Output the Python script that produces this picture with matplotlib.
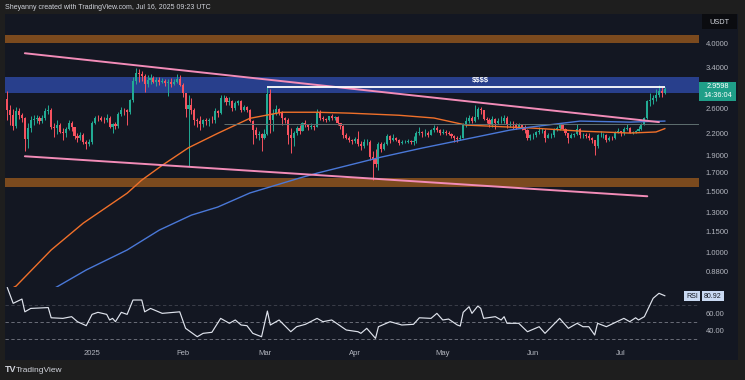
import matplotlib
matplotlib.use('Agg')
import matplotlib.pyplot as plt
import matplotlib.dates as mdates
from matplotlib.patches import Rectangle
from matplotlib.ticker import NullLocator
import numpy as np
import pandas as pd

plt.rcParams['font.family'] = ['Liberation Sans', 'DejaVu Sans']

# XRP/USDT daily candles, 2024-12-03 .. 2025-07-16
first_open = 2.76
close_dec = [2.56, 2.48, 2.31, 2.55, 2.49, 2.44, 2.12, 2.28, 2.40, 2.42, 2.43, 2.38, 2.44, 2.55, 2.57,
             2.30, 2.28, 2.33, 2.22, 2.20, 2.26, 2.36, 2.29, 2.16, 2.14, 2.18, 2.08, 2.05, 2.08]
high_dec = [2.91, 2.65, 2.58, 2.62, 2.60, 2.52, 2.45, 2.35, 2.47, 2.48, 2.48, 2.46, 2.49, 2.60, 2.65,
            2.60, 2.35, 2.40, 2.36, 2.28, 2.30, 2.40, 2.39, 2.30, 2.21, 2.22, 2.20, 2.11, 2.12]
low_dec = [2.40, 2.33, 2.25, 2.28, 2.42, 2.37, 1.96, 1.99, 2.22, 2.33, 2.35, 2.34, 2.36, 2.41, 2.50,
           2.26, 2.15, 2.19, 2.20, 2.10, 2.15, 2.25, 2.24, 2.12, 2.08, 2.10, 2.05, 1.98, 2.02]

close_jan = [2.36, 2.44, 2.43, 2.41, 2.40, 2.43, 2.30, 2.34, 2.31, 2.50, 2.57, 2.56, 2.54, 2.74, 3.12, 3.28,
             3.25, 3.22, 3.06, 3.13, 3.17, 3.10, 3.13, 3.10, 3.12, 3.07, 3.10, 3.05, 3.10, 3.16, 3.04]
high_jan = [2.39, 2.47, 2.48, 2.46, 2.45, 2.50, 2.47, 2.36, 2.37, 2.53, 2.62, 2.60, 2.59, 2.77, 3.20, 3.40,
            3.36, 3.33, 3.25, 3.24, 3.25, 3.22, 3.20, 3.20, 3.17, 3.16, 3.15, 3.18, 3.16, 3.26, 3.23]
low_jan = [2.05, 2.34, 2.39, 2.38, 2.35, 2.37, 2.28, 2.21, 2.27, 2.28, 2.46, 2.48, 2.33, 2.50, 2.70, 3.05,
           3.10, 3.12, 2.90, 3.00, 3.06, 3.07, 3.02, 3.04, 3.07, 3.02, 2.82, 3.00, 3.03, 3.08, 3.01]

close_feb = [2.87, 2.58, 2.65, 2.56, 2.40, 2.38, 2.34, 2.41, 2.39, 2.41, 2.40, 2.55, 2.51, 2.78,
             2.78, 2.70, 2.73, 2.60, 2.69, 2.72, 2.57, 2.62, 2.57, 2.39, 2.25, 2.17, 2.19, 2.14]
high_feb = [3.07, 2.88, 2.84, 2.78, 2.60, 2.44, 2.46, 2.42, 2.44, 2.43, 2.47, 2.60, 2.56, 2.83,
            2.84, 2.81, 2.79, 2.75, 2.72, 2.75, 2.74, 2.65, 2.64, 2.59, 2.40, 2.30, 2.23, 2.20]
low_feb = [2.80, 2.45, 1.77, 2.50, 2.32, 2.30, 2.25, 2.30, 2.33, 2.31, 2.36, 2.35, 2.45, 2.50,
           2.70, 2.65, 2.66, 2.55, 2.56, 2.65, 2.53, 2.55, 2.54, 2.37, 2.05, 2.14, 2.10, 1.96]

close_mar = [2.19, 2.85, 2.41, 2.50, 2.58, 2.51, 2.43, 2.40, 2.17, 2.13, 2.20, 2.28, 2.24, 2.35, 2.33, 2.29,
             2.31, 2.30, 2.53, 2.43, 2.42, 2.40, 2.46, 2.44, 2.45, 2.35, 2.31, 2.18, 2.14, 2.10, 2.09]
high_mar = [2.26, 2.99, 2.95, 2.58, 2.66, 2.60, 2.55, 2.45, 2.43, 2.28, 2.24, 2.31, 2.32, 2.37, 2.40, 2.34,
            2.35, 2.33, 2.59, 2.56, 2.47, 2.43, 2.47, 2.50, 2.47, 2.47, 2.35, 2.32, 2.20, 2.16, 2.12]
low_mar = [2.12, 2.17, 2.20, 2.24, 2.48, 2.48, 2.32, 2.35, 2.05, 1.93, 2.02, 2.18, 2.19, 2.23, 2.30, 2.25,
           2.27, 2.25, 2.29, 2.40, 2.38, 2.37, 2.38, 2.41, 2.40, 2.33, 2.26, 2.14, 2.12, 2.08, 2.05]

close_apr = [2.12, 2.05, 2.02, 2.08, 2.08, 1.88, 1.86, 1.80, 2.05, 1.98, 2.05, 2.16, 2.10, 2.14, 2.11,
             2.07, 2.08, 2.08, 2.09, 2.08, 2.09, 2.20, 2.22, 2.20, 2.20, 2.18, 2.25, 2.28, 2.25, 2.21]
high_apr = [2.15, 2.23, 2.09, 2.12, 2.12, 2.10, 1.96, 1.98, 2.08, 2.08, 2.08, 2.19, 2.17, 2.19, 2.15,
            2.12, 2.10, 2.10, 2.12, 2.10, 2.16, 2.23, 2.30, 2.24, 2.26, 2.24, 2.27, 2.32, 2.31, 2.27]
low_apr = [2.07, 2.02, 1.97, 2.00, 2.04, 1.84, 1.61, 1.76, 1.72, 1.95, 1.97, 2.04, 2.06, 2.09, 2.09,
           2.04, 2.05, 2.06, 2.07, 2.05, 2.04, 2.07, 2.17, 2.15, 2.16, 2.15, 2.17, 2.22, 2.22, 2.17]

close_may = [2.22, 2.21, 2.19, 2.16, 2.14, 2.12, 2.13, 2.33, 2.38, 2.44, 2.39, 2.45, 2.59, 2.56, 2.42, 2.41,
             2.34, 2.42, 2.35, 2.38, 2.39, 2.44, 2.32, 2.34, 2.33, 2.30, 2.32, 2.29, 2.25, 2.14, 2.17]
high_may = [2.26, 2.25, 2.23, 2.20, 2.18, 2.16, 2.17, 2.36, 2.45, 2.48, 2.47, 2.65, 2.62, 2.62, 2.57, 2.45,
            2.44, 2.46, 2.43, 2.44, 2.47, 2.48, 2.47, 2.38, 2.38, 2.36, 2.36, 2.33, 2.33, 2.26, 2.19]
low_may = [2.19, 2.18, 2.17, 2.13, 2.08, 2.08, 2.10, 2.13, 2.30, 2.36, 2.36, 2.37, 2.42, 2.50, 2.40, 2.36,
           2.30, 2.29, 2.26, 2.34, 2.35, 2.36, 2.28, 2.30, 2.27, 2.26, 2.28, 2.25, 2.20, 2.10, 2.11]

close_jun = [2.18, 2.22, 2.23, 2.23, 2.14, 2.17, 2.17, 2.26, 2.28, 2.32, 2.27, 2.20, 2.14, 2.18, 2.19,
             2.27, 2.17, 2.17, 2.16, 2.14, 2.10, 2.02, 2.18, 2.18, 2.18, 2.10, 2.14, 2.13, 2.22, 2.23]
high_jun = [2.20, 2.24, 2.30, 2.28, 2.26, 2.20, 2.20, 2.28, 2.31, 2.34, 2.34, 2.28, 2.21, 2.20, 2.21,
            2.34, 2.28, 2.21, 2.20, 2.20, 2.15, 2.11, 2.19, 2.24, 2.21, 2.19, 2.16, 2.16, 2.24, 2.28]
low_jun = [2.12, 2.15, 2.19, 2.20, 2.08, 2.13, 2.14, 2.15, 2.24, 2.25, 2.25, 2.17, 2.07, 2.13, 2.15,
           2.17, 2.14, 2.13, 2.14, 2.11, 2.06, 1.91, 2.00, 2.15, 2.14, 2.08, 2.09, 2.11, 2.12, 2.20]

close_jul = [2.20, 2.27, 2.28, 2.21, 2.22, 2.24, 2.26, 2.34, 2.43, 2.73, 2.74, 2.78, 2.84, 2.91, 2.88, 2.96]
high_jul = [2.24, 2.29, 2.34, 2.29, 2.24, 2.25, 2.31, 2.35, 2.45, 2.75, 2.88, 2.84, 2.96, 3.03, 3.00, 2.99]
low_jul = [2.16, 2.17, 2.25, 2.20, 2.19, 2.21, 2.23, 2.25, 2.33, 2.42, 2.64, 2.68, 2.73, 2.80, 2.80, 2.86]

# moving averages (days from 2025-01-01, value)
ma100_day = [-29, -26, -14, -3, 12, 17, 24, 33, 43, 54, 65, 77, 88, 105, 117, 128, 143, 150, 167, 184, 193, 196]
ma100_val = [0.775, 0.80, 1.016, 1.214, 1.48, 1.614, 1.78, 2.0, 2.2, 2.43, 2.53, 2.53, 2.515, 2.48, 2.435,
             2.324, 2.293, 2.28, 2.233, 2.204, 2.22, 2.27]
ma200_day = [-14, -12, -2, 12, 23, 34, 43, 54, 71, 77, 99, 113, 128, 143, 150, 167, 184, 196]
ma200_val = [0.78, 0.796, 0.89, 1.016, 1.159, 1.28, 1.35, 1.482, 1.636, 1.69, 1.88, 1.996, 2.118, 2.248,
             2.293, 2.386, 2.37, 2.386]

# RSI(14)
rsi_day = [-29, -27, -24, -23, -21, -15, -14, -10, -7, -5, -2, 0, 2, 5, 6, 7, 8, 10, 12, 14,
           17, 18, 20, 24, 28, 30, 32, 36, 38, 41, 44, 47, 49, 51, 53, 55, 58, 60, 61, 64,
           68, 70, 73, 77, 79, 82, 87, 91, 92, 94, 96, 97, 98, 102, 106, 110, 112, 116, 118, 120,
           122, 125, 126, 127, 129, 130, 132, 133, 134, 138, 140, 141, 142, 146, 149, 153, 155, 160, 163, 166,
           168, 170, 172, 173, 176, 182, 184, 186, 187, 189, 192, 194, 196]
rsi_val = [90.4, 72, 77, 62, 66, 67, 55, 54.3, 56.3, 50.4, 45.7, 59, 61.4, 59, 52.4, 54.3, 50.4, 61.4, 59, 75.9,
           75.9, 62, 66, 60.2, 61.4, 62, 42.6, 32.7, 36.7, 37.9, 54.3, 48.5, 52.4, 46.5, 45.7, 36.7, 32.7, 62.9, 46.5, 52.4,
           38.6, 44.5, 47.3, 54.3, 50.4, 52.4, 40.6, 38.6, 36.7, 42.6, 34.7, 30.8, 44.5, 50.4, 46.5, 47.3, 55, 54.3, 60.2, 52.4,
           53.5, 46.5, 45.3, 61.4, 68, 60.2, 68.8, 66.1, 54.3, 56.3, 52.4, 56.3, 48.5, 48.5, 38.6, 44.5, 36.7, 54.3, 42.6, 48.5,
           44.5, 44.5, 34.7, 48.5, 44.5, 54.3, 50.4, 55, 52.4, 56.3, 77.9, 83.8, 80.92]

# drawings
upper_trend = (('2024-12-09', 3.74), ('2025-07-14', 2.37))
lower_trend = (('2024-12-09', 1.89), ('2025-07-10', 1.45))
liquidity = (('2025-03-02', '2025-07-16'), 2.99)
supply_zone = (4.0, 4.22)
blue_zone = (2.87, 3.19)
demand_zone = (1.54, 1.636)
price_ticks = [4.0, 3.4, 2.6, 2.2, 1.9, 1.7, 1.5, 1.3, 1.15, 1.0, 0.88]
month_ticks = ['2025-01-01', '2025-02-01', '2025-03-01', '2025-04-01', '2025-05-01', '2025-06-01', '2025-07-01']
month_labels = ['2025', 'Feb', 'Mar', 'Apr', 'May', 'Jun', 'Jul']

closes = np.array(close_dec + close_jan + close_feb + close_mar + close_apr + close_may + close_jun + close_jul)
highs = np.array(high_dec + high_jan + high_feb + high_mar + high_apr + high_may + high_jun + high_jul)
lows = np.array(low_dec + low_jan + low_feb + low_mar + low_apr + low_may + low_jun + low_jul)
opens = np.r_[first_open, closes[:-1]]
dates = pd.date_range('2024-12-03', periods=len(closes), freq='D')
x = mdates.date2num(dates)

base = pd.Timestamp('2025-01-01')


def day2num(days):
    return mdates.date2num(base + pd.to_timedelta(np.asarray(days, dtype=float), unit='D'))


def d2n(s):
    return mdates.date2num(pd.Timestamp(s))


W, H = 745, 380
fig = plt.figure(figsize=(W / 100, H / 100), dpi=100, facecolor='#1e1e1e')


def box(x0, y0, x1, y1):
    return [x0 / W, 1 - y1 / H, (x1 - x0) / W, (y1 - y0) / H]


bg = fig.add_axes(box(5, 14, 738, 360))
bg.set_facecolor('#131722')
bg.set_xticks([])
bg.set_yticks([])
for s in bg.spines.values():
    s.set_visible(False)

ax = fig.add_axes(box(5, 14, 699, 287))
rsi = fig.add_axes(box(5, 287, 699, 346), sharex=ax)
for a in (ax, rsi):
    a.patch.set_visible(False)
    for s in a.spines.values():
        s.set_visible(False)

ax.set_yscale('log')
ax.set_ylim(0.795, 4.85)
ax.set_xlim(day2num(-29.8), day2num(207.7))

# zones
ax.axhspan(*supply_zone, color='#7b4a1e', lw=0, zorder=1)
ax.axhspan(*blue_zone, color='#283f8c', lw=0, zorder=1)
ax.axhspan(*demand_zone, color='#7b4a1e', lw=0, zorder=1)

# candles
UP, DOWN = '#22ab94', '#f7525f'
col = np.where(closes >= opens, UP, DOWN)
ax.vlines(x, lows, highs, colors=col, lw=0.7, zorder=2)
ax.bar(x, np.abs(closes - opens), bottom=np.minimum(opens, closes), width=0.72,
       color=col, lw=0, zorder=3)

# moving averages
ax.plot(day2num(ma100_day), ma100_val, color='#f0702a', lw=1.0, zorder=4)
ax.plot(day2num(ma200_day), ma200_val, color='#4a78d8', lw=1.0, zorder=4)

# reference line
ax.hlines(2.34, d2n('2025-02-15'), day2num(207.7), color='#5f6f70', lw=0.7, zorder=4)

# trend channel
for (d0, p0), (d1, p1) in (upper_trend, lower_trend):
    ax.plot([d2n(d0), d2n(d1)], [p0, p1], color='#f28cb8', lw=1.4, zorder=5, solid_capstyle='round')

# liquidity line
(l0, l1), lp = liquidity
ax.hlines(lp, d2n(l0), d2n(l1), color='white', lw=1.3, zorder=6)
ax.text(d2n('2025-05-14'), 3.13, r'\$\$\$\$', color='white', fontsize=5.5, fontweight='bold',
        ha='center', va='center', zorder=7)

ax.set_yticks(price_ticks)
ax.set_yticklabels([f'{t:.4f}' for t in price_ticks])
ax.yaxis.set_minor_locator(NullLocator())
ax.yaxis.tick_right()
ax.tick_params(axis='y', length=0, pad=5, labelsize=5.5, labelcolor='#b2b5be')
ax.tick_params(axis='x', length=0, labelbottom=False)

# RSI pane
rsi.set_ylim(21.8, 91.2)
rsi.axhline(70, color='#787b86', lw=0.6, ls=(0, (4, 3)), alpha=0.45)
rsi.axhline(50, color='#787b86', lw=0.6, ls=(0, (4, 3)))
rsi.axhline(30, color='#787b86', lw=0.6, ls=(0, (4, 3)))
rsi.plot(day2num(rsi_day), rsi_val, color='#dfe3ec', lw=0.85)
rsi.yaxis.tick_right()
rsi.set_yticks([60, 40])
rsi.set_yticklabels(['60.00', '40.00'])
rsi.tick_params(axis='y', length=0, pad=5, labelsize=5.5, labelcolor='#b2b5be')
rsi.set_xticks(mdates.date2num(pd.to_datetime(month_ticks)))
rsi.set_xticklabels(month_labels)
rsi.tick_params(axis='x', length=0, pad=3, labelsize=5.5, labelcolor='#b2b5be')

# header / labels
fig.text(5 / W, 1 - 7.5 / H, 'Sheyanny created with TradingView.com, Jul 16, 2025 09:23 UTC',
         fontsize=5.0, color='#d1d4dc', va='center', ha='left')

fig.patches.append(Rectangle((702 / W, 1 - 29 / H), 35 / W, 15 / H, transform=fig.transFigure,
                             facecolor='#0b0c10', edgecolor='none', zorder=5))
fig.text(719.5 / W, 1 - 22 / H, 'USDT', fontsize=5.3, color='#d1d4dc', ha='center', va='center', zorder=6)

fig.patches.append(Rectangle((699 / W, 1 - 101 / H), 37 / W, 19 / H, transform=fig.transFigure,
                             facecolor='#1f9e88', edgecolor='none', zorder=5))
fig.text(717.5 / W, 1 - 86.5 / H, '2.9598', fontsize=5.3, color='white', ha='center', va='center', zorder=6)
fig.text(717.5 / W, 1 - 95.5 / H, '14:36:04', fontsize=5.3, color='white', ha='center', va='center', zorder=6)

fig.text(692 / W, 1 - 296 / H, 'RSI', fontsize=5, color='#131722', ha='center', va='center',
         bbox=dict(boxstyle='square,pad=0.25', fc='#c9d9f2', ec='none'), zorder=6)
fig.text(713 / W, 1 - 296 / H, '80.92', fontsize=5, color='#131722', ha='center', va='center',
         bbox=dict(boxstyle='square,pad=0.25', fc='#c9d9f2', ec='none'), zorder=6)

fig.text(5 / W, 1 - 370 / H, 'TV', fontsize=6.5, fontweight='bold', color='#d1d4dc', va='center')
fig.text(16 / W, 1 - 370 / H, 'TradingView', fontsize=6, color='#d1d4dc', va='center')

fig.savefig('out.png', dpi=100, facecolor=fig.get_facecolor())
